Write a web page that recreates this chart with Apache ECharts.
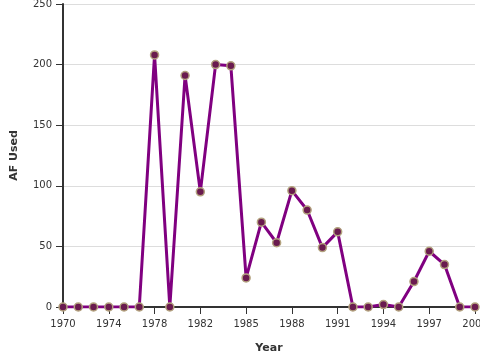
<!DOCTYPE html>
<html>
<head>
<meta charset="utf-8">
<script src="https://cdn.jsdelivr.net/npm/echarts@6/dist/echarts.min.js"></script>
<style>html,body{margin:0;padding:0;background:#fff}#c{width:480px;height:360px}</style>
</head>
<body>
<div id="c"></div>
<script>
var years = ['1970','1971','1972','1974','1975','1976','1978','1979','1980','1982','1983','1984','1985','1986','1987','1988','1989','1990','1991','1992','1993','1994','1995','1996','1997','1998','1999','2000'];
var afUsed = [0,0,0,0,0,0,208,0,191,95,200,199,24,70,53,96,80,49,62,0,0,2,0,21,46,35,0,0];
var yTicks = [0,50,100,150,200,250];

var chart = echarts.init(document.getElementById('c'), null, {renderer:'canvas'});
var font = 'DejaVu Sans, sans-serif';
chart.setOption({
  animation:false,
  grid:{left:63,right:5,top:4,bottom:53,containLabel:false,outerBoundsMode:'none'},
  xAxis:{
    type:'category', data:years, boundaryGap:false,
    name:'Year', nameLocation:'middle', nameGap:36,
    nameTextStyle:{fontFamily:font,fontSize:11,fontWeight:'bold',color:'#333'},
    axisLine:{lineStyle:{color:'#333',width:2}},
    axisTick:{show:true,interval:2,length:7,lineStyle:{color:'#333',width:1}},
    axisLabel:{interval:2,fontFamily:font,fontSize:10,color:'#333',margin:12,hideOverlap:false},
    splitLine:{show:false}
  },
  yAxis:{
    type:'value', min:yTicks[0], max:yTicks[yTicks.length-1], interval:50,
    name:'AF Used', nameLocation:'middle', nameGap:43, nameRotate:90,
    nameTextStyle:{fontFamily:font,fontSize:11,fontWeight:'bold',color:'#333'},
    axisLine:{show:true,lineStyle:{color:'#333',width:2}},
    axisTick:{show:true,length:7,lineStyle:{color:'#333',width:1}},
    axisLabel:{fontFamily:font,fontSize:10,color:'#333',margin:11},
    splitLine:{show:true,lineStyle:{color:'#dddddd',width:1}}
  },
  series:[{
    type:'line', data:afUsed,
    lineStyle:{color:'#800080',width:3},
    symbol:'circle', symbolSize:8, showAllSymbol:true,
    itemStyle:{color:'#6a1b4f',borderColor:'#b3a27e',borderWidth:1.5},
    z:3
  }]
});
</script>
</body>
</html>
